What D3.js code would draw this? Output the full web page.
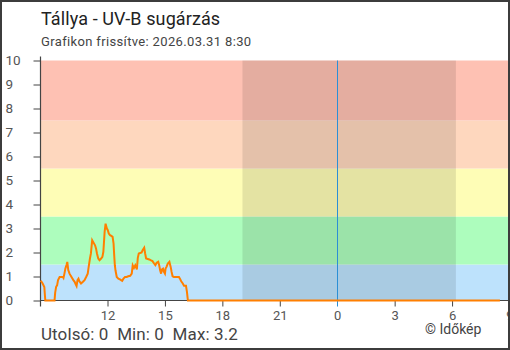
<!DOCTYPE html>
<html><head><meta charset="utf-8">
<script src="https://cdn.jsdelivr.net/npm/d3@7"></script>
<style>
html,body{margin:0;padding:0;background:#fff;}
svg{display:block;font-family:"Roboto",sans-serif;}
</style></head>
<body><svg id="c" width="510" height="350"></svg>
<script>
// ---- data ----
const times = ["03-30 08:30","03-30 08:34","03-30 08:37","03-30 08:42","03-30 08:45","03-30 09:14","03-30 09:16","03-30 09:19","03-30 09:22","03-30 09:25","03-30 09:30","03-30 09:40","03-30 09:42","03-30 09:45","03-30 09:48","03-30 09:52","03-30 09:54","03-30 09:57","03-30 10:01","03-30 10:04","03-30 10:09","03-30 10:13","03-30 10:17","03-30 10:20","03-30 10:23","03-30 10:26","03-30 10:29","03-30 10:32","03-30 10:37","03-30 10:43","03-30 10:48","03-30 10:53","03-30 10:58","03-30 11:01","03-30 11:05","03-30 11:08","03-30 11:12","03-30 11:15","03-30 11:18","03-30 11:21","03-30 11:24","03-30 11:27","03-30 11:31","03-30 11:35","03-30 11:40","03-30 11:44","03-30 11:47","03-30 11:49","03-30 11:51","03-30 11:54","03-30 11:58","03-30 12:01","03-30 12:04","03-30 12:08","03-30 12:12","03-30 12:16","03-30 12:19","03-30 12:21","03-30 12:23","03-30 12:25","03-30 12:29","03-30 12:34","03-30 12:39","03-30 12:46","03-30 12:50","03-30 12:55","03-30 13:00","03-30 13:05","03-30 13:11","03-30 13:16","03-30 13:19","03-30 13:23","03-30 13:27","03-30 13:32","03-30 13:35","03-30 13:38","03-30 13:47","03-30 13:50","03-30 13:55","03-30 13:58","03-30 14:01","03-30 14:11","03-30 14:15","03-30 14:21","03-30 14:26","03-30 14:30","03-30 14:34","03-30 14:39","03-30 14:42","03-30 14:45","03-30 14:48","03-30 14:51","03-30 14:54","03-30 14:57","03-30 15:00","03-30 15:02","03-30 15:05","03-30 15:09","03-30 15:14","03-30 15:18","03-30 15:21","03-30 15:24","03-30 15:28","03-30 15:44","03-30 15:47","03-30 15:51","03-30 15:56","03-30 16:00","03-30 16:06","03-30 16:09","03-30 16:12","03-31 08:30"];
const uv = [0.82,0.77,0.70,0.56,0,0,0.33,0.57,0.63,0.85,0.98,0.98,0.94,1.12,1.33,1.5,1.61,1.27,1.12,1.05,0.94,0.85,0.78,0.68,0.60,0.85,0.91,0.80,0.71,0.78,0.85,0.98,1.12,1.40,1.75,1.96,2.51,2.44,2.37,2.30,2.17,1.96,1.75,1.68,1.75,1.82,2.03,2.44,2.86,3.2,3.0,2.93,2.79,2.72,2.69,2.65,2.37,1.89,1.47,1.26,0.98,0.91,0.88,0.82,0.91,0.98,0.98,1.01,1.03,1.12,1.47,1.36,1.47,1.30,1.78,1.96,2.0,2.1,2.2,1.96,1.75,1.71,1.68,1.64,1.54,1.47,1.57,1.61,1.47,1.26,1.12,1.30,1.33,1.19,1.12,1.33,1.40,1.54,1.61,1.40,1.19,1.01,0.98,0.98,0.91,0.80,0.71,0.61,0.61,0.36,0,0];
const domainTimes = ["03-30 08:30","03-31 09:00"];
const tickTimes = ["03-30 12:00","03-30 15:00","03-30 18:00","03-30 21:00","03-31 00:00","03-31 03:00","03-31 06:00","03-31 09:00"];
const tickLabels = ["12","15","18","21","0","3","6","9"];
const yTicks = [0,1,2,3,4,5,6,7,8,9,10];
const bandBounds = [0,1.5,3.5,5.5,7.5,10];
const bandColors = ["#bde2fc","#adfdbd","#fefdb6","#fed7be","#fec1b3"];
const night = ["03-30 19:03","03-31 06:12"];
const midnight = "03-31 00:00";
const title = "Tállya - UV-B sugárzás";
const subtitle = "Grafikon frissítve: 2026.03.31 8:30";
const footer = "Utolsó: 0  Min: 0  Max: 3.2";
const credit = "© Időkép";

// ---- chart ----
const parse = d3.timeParse("%Y-%m-%d %H:%M");
const P = s => parse("2026-" + s);
const svg = d3.select("#c");
const L = 40.5, R = 509.5, T = 60.5, B = 300.5;
const x = d3.scaleTime().domain(domainTimes.map(P)).range([L, R]);
const y = d3.scaleLinear().domain([0, 10]).range([B, T]);

// bands
svg.append("g").selectAll("rect").data(bandColors).join("rect")
  .attr("x", L).attr("width", R - L)
  .attr("y", (d, i) => y(bandBounds[i + 1]))
  .attr("height", (d, i) => y(bandBounds[i]) - y(bandBounds[i + 1]))
  .attr("fill", d => d);

// night shade
svg.append("rect")
  .attr("x", x(P(night[0]))).attr("width", x(P(night[1])) - x(P(night[0])))
  .attr("y", T).attr("height", B - T)
  .attr("fill", "rgba(0,0,0,0.1)");

// midnight line
svg.append("line")
  .attr("x1", Math.round(x(P(midnight))) + 0.5).attr("x2", Math.round(x(P(midnight))) + 0.5)
  .attr("y1", T).attr("y2", B + 6)
  .attr("stroke", "#2b8fd6").attr("stroke-width", 1);

// y axis
const yAxis = d3.axisLeft(y).tickValues(yTicks).tickSize(7).tickFormat(d3.format("d"));
const gy = svg.append("g").attr("transform", `translate(${L},0)`).call(yAxis);
gy.select(".domain").attr("d", `M0,${T - 4}V${B + 6}`).attr("stroke", "#444").attr("stroke-width", 1.2);
gy.selectAll(".tick line").attr("stroke", "#444");
gy.selectAll(".tick text").attr("text-anchor", "start").attr("x", -35)
  .attr("fill", "#555").style("font-size", "13.5px").style("font-family", "Roboto");

// x axis
const xAxis = d3.axisBottom(x).tickValues(tickTimes.map(P)).tickSize(6)
  .tickFormat((d, i) => tickLabels[i]);
const gx = svg.append("g").attr("transform", `translate(0,${B})`).call(xAxis);
gx.select(".domain").attr("d", `M${L},0H${R}`).attr("stroke", "#444").attr("stroke-width", 1.2);
gx.selectAll(".tick line").attr("stroke", (d) => +d === +P(midnight) ? "none" : "#444");
gx.selectAll(".tick text").attr("y", 10.5).attr("fill", "#555")
  .style("font-size", "13px").style("font-family", "Roboto");

// line
const data = times.map((t, i) => ({t: P(t), v: uv[i]}));
svg.append("path").datum(data)
  .attr("d", d3.line().x(d => x(d.t)).y(d => y(d.v)))
  .attr("fill", "none").attr("stroke", "#ff7f00").attr("stroke-width", 2);

// texts
svg.append("text").attr("x", 41).attr("y", 25).text(title)
  .attr("fill", "#222").style("font-size", "18px").style("letter-spacing", "0.1px");
svg.append("text").attr("x", 41).attr("y", 46).text(subtitle)
  .attr("fill", "#444").style("font-size", "13px").style("letter-spacing", "0.35px");
svg.append("text").attr("x", 41).attr("y", 340).text(footer)
  .attr("fill", "#444").style("font-size", "17px").style("letter-spacing", "0.1px").style("white-space", "pre");
svg.append("text").attr("x", 425).attr("y", 334).text(credit)
  .attr("fill", "#444").style("font-size", "14px");

// border
svg.append("rect").attr("x", 1).attr("y", 1).attr("width", 508).attr("height", 348)
  .attr("fill", "none").attr("stroke", "#3c3c3c").attr("stroke-width", 2);
</script></body></html>
